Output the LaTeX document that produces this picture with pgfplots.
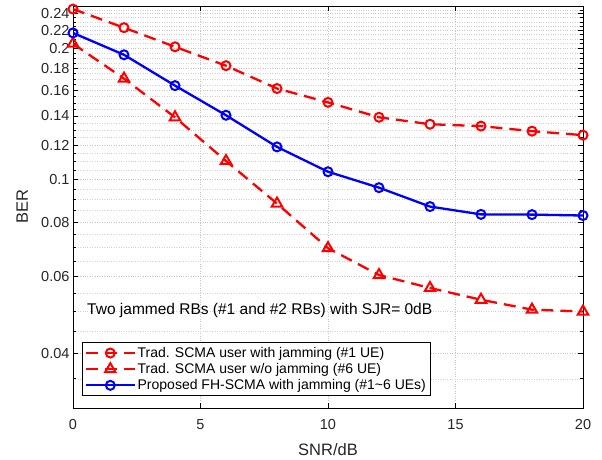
\documentclass[border=0pt]{standalone}
\usepackage{fontspec}
\setmainfont{Liberation Sans}
\usepackage{pgfplots}
\pgfplotsset{compat=1.18}
\definecolor{ticktext}{RGB}{38,38,38}

\begin{document}
\begin{tikzpicture}
\begin{semilogyaxis}[
    scale only axis,
    width=510pt, height=402pt,
    xmin=0, xmax=20,
    ymin=0.03, ymax=0.25,
    xtick={0,5,10,15,20},
    ytick={0.04,0.06,0.08,0.1,0.12,0.14,0.16,0.18,0.2,0.22,0.24},
    yticklabels={0.04,0.06,0.08,0.1,0.12,0.14,0.16,0.18,0.2,0.22,0.24},
    minor ytick={0.03,0.035,0.045,0.05,0.055,0.065,0.07,0.075,0.085,0.09,0.095,
                 0.105,0.11,0.115,0.125,0.13,0.135,0.145,0.15,0.155,0.165,0.17,0.175,
                 0.185,0.19,0.195,0.205,0.21,0.215,0.225,0.23,0.235,0.245},
    /pgf/number format/assume math mode=true,
    tick label style={font=\fontsize{14.5}{16}\selectfont, text=ticktext},
    xticklabel style={yshift=-8pt},
    label style={font=\fontsize{16.5}{18}\selectfont, text=ticktext},
    xlabel={SNR/dB},
    ylabel={BER},
    xlabel style={at={(axis description cs:0.5,-0.117)}, anchor=base, inner sep=0pt},
    ylabel style={at={(axis description cs:-0.088,0.5)}, anchor=south, inner sep=0pt},
    tick align=inside,
    major tick length=5pt, minor tick length=3pt,
    every tick/.style={black, line width=0.6pt},
    axis line style={black, line width=0.8pt},
    grid=both,
    major grid style={gray!45, dotted, line width=0.7pt},
    minor grid style={gray!35, dotted, line width=0.5pt},
    legend style={font=\fontsize{14}{16}\selectfont, at={(0.018,0.03)},
                  anchor=south west, draw=black, line width=0.6pt, fill=white,
                  row sep=0.5pt, inner sep=2.5pt},
    legend cell align=left,
    legend image code/.code={
        \draw[mark repeat=2, mark phase=2, #1]
            plot coordinates {(0cm,0cm) (0.85cm,0cm) (1.7cm,0cm)};},
]
\addplot[red, line width=2.3pt, dash pattern=on 12pt off 7pt,
         mark=o, mark size=4.5pt, mark options={solid, line width=2pt}]
    coordinates {(0,0.246) (2,0.223) (4,0.2016) (6,0.1825) (8,0.1618)
                 (10,0.1504) (12,0.139) (14,0.134) (16,0.1327) (18,0.1292) (20,0.1265)};
\addlegendentry{Trad. SCMA user with jamming (\#1 UE)}
\addplot[red, line width=2.3pt, dash pattern=on 12pt off 7pt,
         mark=triangle, mark size=6pt, mark options={solid, line width=2pt}]
    coordinates {(0,0.2049) (2,0.1705) (4,0.139) (6,0.1104) (8,0.0882)
                 (10,0.0697) (12,0.0605) (14,0.0565) (16,0.0531) (18,0.0504) (20,0.0499)};
\addlegendentry{Trad. SCMA user w/o jamming (\#6 UE)}
\addplot[blue, line width=2.3pt, solid,
         mark=o, mark size=4.5pt, mark options={solid, line width=2pt}]
    coordinates {(0,0.2169) (2,0.1933) (4,0.1643) (6,0.1405) (8,0.1189)
                 (10,0.1043) (12,0.0959) (14,0.0868) (16,0.0833) (18,0.0832) (20,0.0828)};
\addlegendentry{Proposed FH-SCMA with jamming (\#1\textasciitilde6 UEs)}
\node[anchor=west, font=\fontsize{15.5}{17}\selectfont, inner sep=0pt]
    at (axis cs:0.55,0.0501) {Two jammed RBs (\#1 and \#2 RBs) with SJR= 0dB};
\end{semilogyaxis}
\pgfresetboundingbox
\path[use as bounding box] ([shift={(-73pt,-52pt)}]current axis.south west)
    rectangle ([shift={(19pt,6pt)}]current axis.north east);
\end{tikzpicture}
\end{document}
